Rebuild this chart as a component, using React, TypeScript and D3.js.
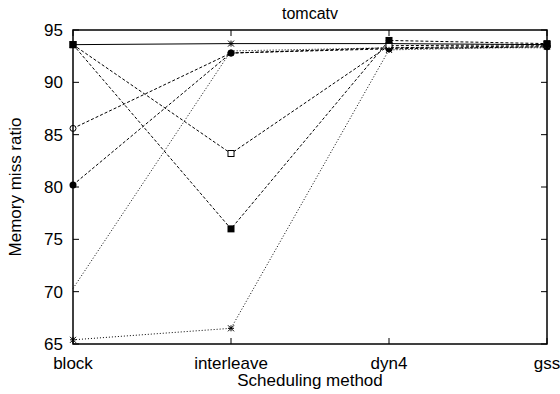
import React from "react";
import * as d3 from "d3";

const methods = ["block", "interleave", "dyn4", "gss"];
const yTicks = [65, 70, 75, 80, 85, 90, 95];

const seriesSolid = [93.6, 93.7, 93.7, 93.6];
const seriesOpenCircle = [85.6, 92.8, 93.3, 93.5];
const seriesFilledCircle = [80.2, 92.8, 93.2, 93.4];
const seriesOpenSquare = [93.6, 83.2, 93.5, 93.6];
const seriesFilledSquare = [93.6, 76.0, 94.0, 93.7];
const seriesDotted = [70.3, 93.0, 93.3, 93.3];
const seriesStar = [65.4, 66.5, 93.1, 93.4];

type Marker = "filledSquare" | "openSquare" | "openCircle" | "filledCircle" | "star" | "none";

const seriesList: { values: number[]; dash: string; marker: Marker; color: string }[] = [
  { values: seriesSolid, dash: "", marker: "star", color: "#000" },
  { values: seriesOpenCircle, dash: "3,2", marker: "openCircle", color: "#000" },
  { values: seriesFilledCircle, dash: "3,2", marker: "filledCircle", color: "#000" },
  { values: seriesOpenSquare, dash: "3,2", marker: "openSquare", color: "#000" },
  { values: seriesFilledSquare, dash: "3,2", marker: "filledSquare", color: "#000" },
  { values: seriesDotted, dash: "1,2", marker: "none", color: "#000" },
  { values: seriesStar, dash: "1,2", marker: "star", color: "#000" },
];

const W = 560;
const H = 394;
const left = 73;
const right = 547;
const top = 30;
const bottom = 344;

const x = d3.scalePoint<string>().domain(methods).range([left, right]);
const y = d3.scaleLinear().domain([65, 95]).range([bottom, top]);

function MarkerShape({ kind, cx, cy }: { kind: Marker; cx: number; cy: number }) {
  const s = 3;
  switch (kind) {
    case "filledSquare":
      return <rect x={cx - s - 0.5} y={cy - s - 0.5} width={2 * s + 1} height={2 * s + 1} fill="#000" />;
    case "openSquare":
      return <rect x={cx - s} y={cy - s} width={2 * s} height={2 * s} fill="#fff" stroke="#000" strokeWidth={1} />;
    case "openCircle":
      return <circle cx={cx} cy={cy} r={s} fill="#fff" stroke="#000" strokeWidth={1} />;
    case "filledCircle":
      return <circle cx={cx} cy={cy} r={s + 0.5} fill="#000" />;
    case "star":
      return (
        <g stroke="#000" strokeWidth={1}>
          <line x1={cx - s} y1={cy - s} x2={cx + s} y2={cy + s} />
          <line x1={cx - s} y1={cy + s} x2={cx + s} y2={cy - s} />
          <line x1={cx - s} y1={cy} x2={cx + s} y2={cy} />
          <line x1={cx} y1={cy - s} x2={cx} y2={cy + s} />
        </g>
      );
    default:
      return null;
  }
}

export default function App() {
  const line = d3
    .line<number>()
    .x((_, i) => x(methods[i]) as number)
    .y((d) => y(d));

  const font = "'Liberation Sans', Arial, sans-serif";

  return (
    <svg
      width={W}
      height={H}
      style={{ position: "absolute", left: 0, top: 0, background: "#fff" }}
      fontFamily={font}
    >
      <rect width={W} height={H} fill="#fff" />
      <text x={(left + right) / 2} y={19} textAnchor="middle" fontSize={16}>
        tomcatv
      </text>

      {/* y ticks, mirrored on the right */}
      {yTicks.map((t) => (
        <g key={t}>
          <line x1={left} x2={left + 6} y1={y(t)} y2={y(t)} stroke="#000" />
          <line x1={right} x2={right - 6} y1={y(t)} y2={y(t)} stroke="#000" />
          <text x={left - 10} y={y(t) + 6} textAnchor="end" fontSize={17}>
            {t}
          </text>
        </g>
      ))}

      {/* x ticks, mirrored on the top */}
      {methods.map((m) => (
        <g key={m}>
          <line x1={x(m)} x2={x(m)} y1={bottom} y2={bottom - 6} stroke="#000" />
          <line x1={x(m)} x2={x(m)} y1={top} y2={top + 6} stroke="#000" />
          <text x={x(m)} y={369} textAnchor="middle" fontSize={17}>
            {m}
          </text>
        </g>
      ))}

      <text x={310} y={386} textAnchor="middle" fontSize={17}>
        Scheduling method
      </text>
      <text
        transform={`translate(21, ${(top + bottom) / 2}) rotate(-90)`}
        textAnchor="middle"
        fontSize={17}
      >
        Memory miss ratio
      </text>

      {seriesList.map((s, i) => (
        <path
          key={i}
          d={line(s.values) || ""}
          fill="none"
          stroke={s.color}
          strokeWidth={1}
          strokeDasharray={s.dash || undefined}
        />
      ))}
      {seriesList.map((s, i) =>
        s.values.map((v, j) => (
          <MarkerShape key={`${i}-${j}`} kind={s.marker} cx={x(methods[j]) as number} cy={y(v)} />
        ))
      )}

      <rect
        x={left}
        y={top}
        width={right - left}
        height={bottom - top}
        fill="none"
        stroke="#000"
        strokeWidth={1.5}
      />
    </svg>
  );
}
